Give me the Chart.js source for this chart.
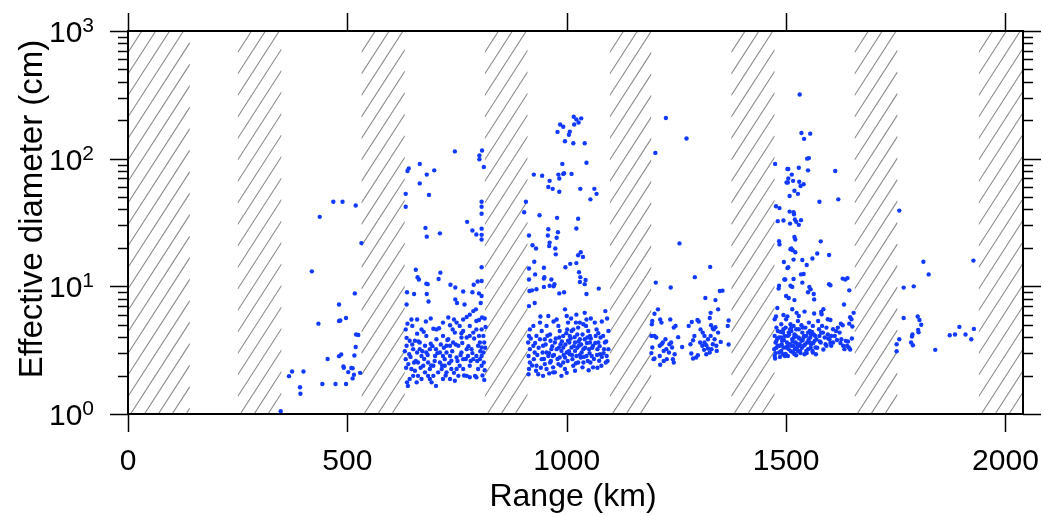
<!DOCTYPE html>
<html>
<head>
<meta charset="utf-8">
<script src="https://cdn.jsdelivr.net/npm/chart.js@4.4.0/dist/chart.umd.min.js"></script>
<style>
  body { margin: 0; background: #fff; }
  canvas { display: block; }
</style>
</head>
<body>
<canvas id="chart" width="1043" height="516"></canvas>
<script>
// axis setup
const xTicks = [0, 500, 1000, 1500, 2000];
const yTicks = [1, 10, 100, 1000];
const yTickExps = ['0', '1', '2', '3'];
const xTitle = 'Range (km)';
const yTitle = 'Effective diameter (cm)';

// hatched range bands (km)
const shadowBands = [[0, 141], [250, 350], [532, 631], [813, 911], [1098, 1193], [1375, 1474], [1656, 1754], [1939, 2040]];

// [range km, diameter cm]
const groupNear = [[348,1.05],[367,1.98],[374,2.15],[400,2.15],[392,1.62],[393,1.44],[434,5.1],[443,1.72],[455,2.7],[473,1.72],[481,7.2],[481,5.35],[484,5.4],[497,5.65],[481,2.84],[486,2.93],[491,2.36],[492,2.3],[497,1.72],[502,2.13],[509,2.29],[512,2.28],[515,2.03],[512,1.9],[516,2.87],[519,3.35],[520,4.2],[525,4.16],[517,8.8],[529,2.1],[468,46],[489,46],[519,43],[532,21.8],[419,13.1],[437,35]];

const group700Upper = [[640,84],[637,80],[665,91],[681,75],[698,81],[665,64],[686,52],[633,53],[633,42],[745,114],[801,106],[801,99],[807,116],[811,86],[806,46],[806,42],[806,37],[773,32],[785,27.4],[794,25.5],[806,28.3],[806,25.3],[806,23.3],[678,28.7],[681,24.5],[711,26],[656,13.5],[660,11.8],[663,11.3],[712,12.8],[708,11.4],[680,10.5],[683,10.4],[806,14.1],[636,9.0],[635,7.2],[652,8.7],[681,8.7],[685,7.6],[735,10.3],[746,9.8],[764,9.1],[746,7.9],[750,7.4],[767,7.2],[788,10.3],[797,10.9],[806,11.0],[785,9.0],[800,8.8],[806,8.4],[804,7.4]];

const group700 = [[646,5.5],[659,5.5],[679,5.3],[633,4.6],[648,4.9],[669,4.6],[674,4.4],[635,3.95],[642,3.75],[659,4.26],[665,3.63],[680,4.09],[690,3.55],[696,4.65],[703,4.6],[709,4.7],[718,5.2],[730,5.7],[734,4.95],[743,5.5],[749,5.2],[756,4.9],[764,5.5],[772,5.75],[779,6.0],[787,6.4],[793,6.6],[794,5.35],[800,5.45],[807,5.7],[813,5.6],[806,4.6],[810,4.09],[802,3.63],[798,3.42],[787,4.34],[779,4.09],[772,3.97],[760,3.97],[753,3.42],[741,3.63],[734,3.42],[726,3.03],[718,2.85],[711,3.03],[702,3.22],[688,3.22],[680,3.03],[669,2.85],[659,3.03],[650,3.22],[641,2.94],[633,2.69],[639,2.46],[646,2.25],[654,2.18],[642,1.88],[636,1.77],[638,1.66],[650,1.99],[661,1.99],[669,1.88],[677,2.12],[684,1.99],[692,1.77],[702,1.66],[696,1.99],[707,2.12],[715,2.25],[722,2.39],[726,2.12],[734,1.88],[745,1.82],[749,2.25],[756,2.39],[764,2.25],[772,1.99],[779,1.94],[791,1.99],[798,2.25],[806,2.39],[811,2.53],[802,2.69],[794,2.85],[810,3.03],[806,3.32],[783,3.22],[775,2.85],[764,2.69],[749,2.77],[737,2.61],[722,2.69],[711,2.53],[696,2.39],[684,2.53],[673,2.39],[661,2.53],[652,2.53],[665,3.22],[635,3.42],[703,3.85],[718,4.09],[730,3.85],[745,4.34],[764,4.47],[779,4.9],[794,4.6],[688,2.25],[718,1.88],[779,2.39],[794,1.94],[753,1.99],[734,2.85],[737,2.25],[658,1.77],[688,1.88],[806,2.85],[812,3.63],[800,4.09],[726,3.42],[677,3.42],[654,3.75],[700,2.85],[760,3.03],[787,2.69],[772,3.22],
    [631,3.1],[634,2.3],[644,2.8],[648,3.5],[656,2.6],[662,3.7],[667,2.3],[671,3.1],[675,2.7],[683,2.9],[691,2.4],[694,3.4],[699,2.6],[705,3.0],[713,3.5],[716,2.4],[720,3.3],[724,2.0],[728,3.8],[732,2.5],[739,3.1],[743,2.1],[747,3.5],[751,2.6],[758,2.9],[762,3.6],[766,2.0],[770,2.7],[776,3.4],[781,2.6],[785,3.0],[789,3.9],[796,2.6],[803,3.1],[808,2.0],[813,2.2],[815,4.8],[814,3.3],[812,1.85],[637,5.1],[690,5.6],[740,4.6],[760,4.3]];

const group1000Upper = [[1016,213],[1022,203],[1033,207],[1027,192],[1017,185],[985,185],[992,178],[1007,163],[1005,154],[979,162],[996,137],[1015,132],[1041,132],[990,91],[1045,93],[925,75],[944,73.5],[961,67],[981,75],[983,70],[992,76],[994,77],[1011,76],[958,60],[968,58],[983,55],[1031,58],[1063,58],[1068,53],[1054,48],[907,46],[903,38],[938,36],[978,34.4],[1026,33.8],[958,28],[957,25],[961,22],[960,20.7],[980,26.5],[977,24],[974,19.8],[1022,28.4],[1026,17.5],[1032,18.5],[1037,17],[914,25],[922,21],[930,19.8],[926,15.6],[975,17.8],[997,14.1],[1008,15],[1022,15.2],[1028,12.9],[948,14],[914,13.8],[928,12.4],[948,11.5],[914,11.3],[949,11.8],[965,11.3],[972,10.4],[948,9.9],[961,10.1],[970,10],[1031,11.8],[1030,10.8],[1041,10.4],[1043,11.2],[1073,9.6],[915,9.2],[921,9.3],[931,9.5],[983,8.8],[994,9.0],[1045,8.7],[914,7.0],[927,7.4]];

const group1000 = [[916,4.6],[914,4.09],[912,3.63],[916,3.22],[913,2.85],[916,2.53],[914,2.25],[913,2.05],[924,3.42],[927,3.03],[925,2.69],[931,2.39],[930,2.18],[939,5.2],[943,4.47],[939,3.85],[946,3.42],[945,3.03],[943,2.69],[950,2.46],[954,2.25],[958,5.85],[954,4.9],[962,4.2],[963,3.75],[965,3.22],[968,2.85],[962,2.53],[969,2.32],[973,2.12],[977,5.5],[981,4.9],[984,4.47],[983,3.97],[986,3.52],[988,3.12],[984,2.77],[992,2.53],[996,2.25],[988,1.99],[996,6.6],[1000,5.85],[1003,5.2],[1001,4.6],[1007,4.09],[1006,3.63],[1011,3.32],[1007,2.94],[1013,2.69],[1015,2.39],[1019,2.18],[1022,6.0],[1021,5.2],[1026,4.75],[1024,4.2],[1030,3.85],[1028,3.42],[1034,3.03],[1032,2.77],[1038,2.53],[1036,2.32],[1041,6.2],[1045,5.5],[1044,4.9],[1049,4.47],[1047,3.97],[1053,3.63],[1051,3.22],[1057,2.85],[1054,2.53],[1060,2.32],[1064,5.2],[1068,4.6],[1066,4.09],[1072,3.63],[1070,3.22],[1076,2.94],[1074,2.61],[1079,2.39],[1083,4.09],[1087,3.63],[1085,3.22],[1091,2.85],[1089,2.53],[1095,4.47],[1095,3.22],[1088,6.4],[992,3.32],[1000,3.03],[1003,3.75],[1019,3.12],[1026,2.53],[1038,3.22],[1041,3.85],[1019,3.63],[1011,4.47],[977,3.22],[973,3.63],[958,2.85],[950,3.85],[931,4.09],[924,4.9],[996,2.77],[1022,2.85],[1045,2.85],[1060,3.42],[1038,5.05],[981,2.46],[954,3.03],[992,4.09],[1015,4.6],[1053,4.09],[1077,3.97],[946,1.99],[969,2.12],[935,2.05],[1000,2.1],[1050,2.2],[1070,2.3],[960,2.08],
    [918,3.9],[921,2.4],[928,3.6],[933,2.9],[936,3.3],[941,2.3],[948,2.7],[952,3.5],[956,4.1],[960,3.0],[964,2.6],[967,3.4],[971,2.9],[975,3.9],[979,2.7],[982,3.3],[986,2.4],[989,3.7],[993,2.9],[997,3.5],[999,4.3],[1002,2.6],[1005,3.1],[1009,3.9],[1012,2.9],[1016,3.4],[1018,4.0],[1021,2.5],[1024,3.3],[1027,3.7],[1030,2.9],[1033,3.5],[1036,4.2],[1039,2.8],[1042,3.3],[1046,3.6],[1048,2.6],[1052,3.0],[1055,3.9],[1058,3.3],[1062,2.7],[1065,3.6],[1069,2.9],[1072,4.3],[1075,3.4],[1080,2.8],[1084,3.0],[1090,3.7],[1093,2.6],[1010,5.6],[1030,5.2],[1055,5.6],[970,5.3],[940,5.8],[1080,5.3],[1092,5.6]];

const group1250 = [[1226,208],[1202,111],[1273,144],[1257,21.7],[1327,14.2],[1292,11.8],[1203,10.7],[1237,9.8],[1349,9.2],[1355,9.25],[1316,8.1],[1339,7.8],[1345,6.6],[1208,6.6],[1200,6.1],[1328,6.2],[1369,5.4],[1367,4.9],[1369,3.5],[1236,5.5],[1213,5.5],[1216,5.2],[1195,5.35],[1194,5.05],[1278,4.9],[1285,5.25],[1298,5.45],[1301,5.3],[1326,5.65],[1329,4.95],[1339,4.78],[1333,4.67],[1244,4.75],[1248,4.9],[1254,4.0],[1193,4.09],[1200,4.09],[1204,3.97],[1195,3.32],[1193,3.0],[1198,2.69],[1200,2.72],[1212,3.42],[1216,3.52],[1219,3.63],[1213,2.43],[1227,3.22],[1225,3.85],[1234,3.52],[1238,3.63],[1240,3.32],[1233,3.03],[1228,2.69],[1242,2.69],[1244,2.53],[1221,3.12],[1212,2.85],[1221,2.6],[1246,2.94],[1263,3.35],[1284,2.98],[1288,2.72],[1295,2.77],[1299,2.89],[1282,3.52],[1288,3.78],[1291,4.09],[1305,4.6],[1310,4.34],[1314,4.09],[1304,3.63],[1309,3.42],[1313,3.18],[1318,3.46],[1322,3.26],[1326,3.03],[1318,2.94],[1330,3.22],[1333,3.52],[1337,3.85],[1341,3.42],[1328,4.09],[1335,4.6],[1345,4.34],[1351,3.67],[1342,3.12],[1314,3.63],[1322,3.85]];

const group1500Upper = [[1531,318],[1535,159],[1555,157],[1541,143],[1548,100],[1552,101],[1475,91],[1503,83],[1505,83],[1529,85],[1550,81],[1513,75],[1505,70],[1501,65],[1504,65],[1516,67],[1530,66],[1540,63],[1533,61],[1519,56],[1527,53],[1508,51],[1612,80],[1619,48],[1576,46],[1477,42.4],[1485,41],[1481,32.4],[1494,32.8],[1508,38.5],[1517,38],[1518,36.7],[1520,33.4],[1523,32],[1534,33],[1529,30.3],[1509,31],[1484,22.6],[1485,21.3],[1519,24.4],[1521,23.3],[1512,19.8],[1515,19.2],[1521,18.5],[1510,19.5],[1579,22.5],[1571,18.1],[1560,16.5],[1598,17.6],[1537,16.1],[1547,14.7],[1495,15.5],[1505,14.1],[1503,13.9],[1517,16.2],[1510,10.1],[1514,9.9],[1519,7.8],[1500,8.4],[1506,8.1],[1484,10.1],[1483,9.6],[1496,11.3],[1498,11.3],[1517,11.4],[1534,12.4],[1540,12.5],[1553,9.9],[1563,8.7],[1564,7.9],[1556,9.47],[1550,9.0],[1537,10.7],[1598,10.4],[1601,10.2],[1629,11.5],[1635,11.3],[1640,11.6],[1644,9.3],[1632,7.2],[1477,5.8],[1494,5.97],[1503,5.82],[1480,6.77],[1514,6.61],[1524,6.2],[1529,5.86],[1542,6.34],[1564,6.12],[1581,6.04],[1585,6.61],[1580,6.3],[1595,5.52],[1601,5.45],[1625,5.1],[1629,4.95],[1646,5.72],[1649,5.52],[1654,6.2],[1644,5.1],[1651,4.84]];

const group1500 = [[1474,5.52],[1478,4.75],[1474,4.09],[1476,3.63],[1473,3.22],[1474,2.85],[1475,2.72],[1481,4.47],[1484,3.97],[1485,3.42],[1484,3.03],[1489,5.05],[1493,4.34],[1491,3.74],[1494,3.32],[1493,2.94],[1500,5.52],[1499,4.75],[1504,4.09],[1502,3.63],[1506,3.22],[1504,2.85],[1510,5.05],[1512,4.47],[1514,3.85],[1512,3.42],[1516,3.03],[1517,4.9],[1519,4.2],[1522,3.63],[1520,3.22],[1523,2.88],[1527,5.35],[1529,4.61],[1528,3.97],[1531,3.52],[1532,3.12],[1535,4.95],[1537,4.34],[1538,3.8],[1540,3.42],[1542,2.94],[1544,4.75],[1546,4.09],[1548,3.63],[1550,3.22],[1552,5.2],[1554,4.47],[1555,3.97],[1557,3.52],[1560,3.12],[1561,4.9],[1563,4.2],[1565,3.74],[1567,3.32],[1568,2.94],[1573,5.35],[1575,4.61],[1576,4.09],[1579,3.63],[1582,4.9],[1584,4.34],[1588,3.97],[1590,3.52],[1592,4.75],[1595,4.2],[1599,3.85],[1603,3.42],[1607,3.63],[1611,4.09],[1614,4.47],[1618,4.75],[1622,4.34],[1626,3.85],[1630,3.42],[1633,3.22],[1636,3.74],[1639,3.42],[1643,3.32],[1489,3.12],[1497,4.09],[1508,3.52],[1525,3.32],[1535,3.74],[1546,3.12],[1557,4.2],[1569,3.85],[1523,4.61],[1512,4.75],[1500,3.32],[1561,3.03],[1478,3.74],[1497,2.85],[1516,3.42],[1538,4.75],[1550,4.34],[1580,4.34],[1592,3.42],[1607,4.61],[1603,4.09],[1494,4.61],[1506,4.34],[1518,3.97],[1529,3.42],[1541,4.09],[1554,3.63],[1481,3.42],[1489,3.97],
    [1476,3.0],[1480,3.9],[1486,2.8],[1490,3.5],[1495,3.8],[1499,2.95],[1503,3.4],[1507,4.2],[1511,3.1],[1515,3.7],[1519,2.95],[1522,4.1],[1526,3.5],[1530,3.9],[1533,3.0],[1536,3.3],[1540,4.0],[1543,3.5],[1547,3.0],[1551,3.8],[1556,3.3],[1559,4.4],[1562,3.6],[1566,4.1],[1571,3.3],[1577,3.7],[1585,3.2],[1596,3.9],[1601,3.6],[1616,3.8],[1624,3.6],[1641,3.7],[1646,3.2],[1650,3.9],[1478,3.3],[1487,4.4],[1509,4.6],[1527,3.1]];

const groupFar = [[1758,39.2],[1813,15.6],[1825,12.4],[1768,9.77],[1791,10],[1927,15.9],[1768,5.65],[1800,5.8],[1804,5.45],[1808,5.0],[1801,4.56],[1802,4.36],[1788,4.2],[1787,4.05],[1785,3.63],[1789,3.46],[1758,3.85],[1752,3.52],[1752,3.1],[1840,3.18],[1873,4.14],[1885,4.2],[1895,4.81],[1909,4.2],[1922,3.85],[1928,4.64]];

const groups = [groupNear, group700Upper, group700, group1000Upper, group1000, group1250, group1500Upper, group1500, groupFar];

const FONT = '"Liberation Sans", Arial, Helvetica, sans-serif';

const framePlugin = {
    id: 'frame',
    beforeDatasetsDraw(chart) {
        const { ctx, chartArea: a, scales } = chart;
        const xs = scales.x;
        ctx.save();
        ctx.strokeStyle = '#8c8c8c';
        ctx.lineWidth = 1.1;
        const slope = 1.55;   // rise per px
        const step = 21.5;    // vertical spacing of hatch lines
        shadowBands.forEach(([from, to]) => {
            const x0 = xs.getPixelForValue(from);
            const x1 = Math.min(xs.getPixelForValue(to), a.right);
            ctx.save();
            ctx.beginPath();
            ctx.rect(x0, a.top, x1 - x0, a.bottom - a.top);
            ctx.clip();
            const w = x1 - x0;
            ctx.beginPath();
            for (let c = a.top; c < a.bottom + slope * w + step; c += step) {
                ctx.moveTo(x0, c);
                ctx.lineTo(x1, c - slope * w);
            }
            ctx.stroke();
            ctx.restore();
        });
        ctx.restore();
    },
    afterDatasetsDraw(chart) {
        const { ctx, chartArea: a, scales } = chart;
        const xs = scales.x, ys = scales.y;
        ctx.save();
        ctx.strokeStyle = '#000';
        ctx.fillStyle = '#000';

        // ticks
        ctx.lineWidth = 1.5;
        ctx.beginPath();
        xTicks.forEach(v => {
            const px = Math.round(xs.getPixelForValue(v)) + 0.5;
            ctx.moveTo(px, a.bottom); ctx.lineTo(px, a.bottom + 18);
            ctx.moveTo(px, a.top); ctx.lineTo(px, a.top - 18);
        });
        yTicks.forEach((v, i) => {
            const py = Math.round(ys.getPixelForValue(v)) + 0.5;
            ctx.moveTo(a.left - 18, py); ctx.lineTo(a.left, py);
            ctx.moveTo(a.right, py); ctx.lineTo(a.right + 18, py);
            if (i < yTicks.length - 1) {
                for (let m = 2; m <= 9; m++) {
                    const pm = Math.round(ys.getPixelForValue(v * m)) + 0.5;
                    ctx.moveTo(a.left - 10, pm); ctx.lineTo(a.left, pm);
                    ctx.moveTo(a.right, pm); ctx.lineTo(a.right + 10, pm);
                }
            }
        });
        ctx.stroke();

        // frame
        ctx.lineWidth = 2;
        ctx.strokeRect(a.left, a.top, a.right - a.left, a.bottom - a.top);

        // x tick labels
        ctx.font = '30px ' + FONT;
        ctx.textAlign = 'center';
        ctx.textBaseline = 'alphabetic';
        xTicks.forEach(v => ctx.fillText(String(v), xs.getPixelForValue(v), 470));

        // y tick labels as 10^n
        yTicks.forEach((v, i) => {
            const py = ys.getPixelForValue(v);
            ctx.font = '30px ' + FONT;
            const w1 = ctx.measureText('10').width;
            ctx.font = '21px ' + FONT;
            const w2 = ctx.measureText(yTickExps[i]).width;
            ctx.textAlign = 'left';
            ctx.font = '30px ' + FONT;
            ctx.fillText('10', 94 - w2 - w1, py + 11);
            ctx.font = '21px ' + FONT;
            ctx.fillText(yTickExps[i], 94 - w2, py + 1);
        });

        // titles
        ctx.font = '32px ' + FONT;
        ctx.textAlign = 'center';
        ctx.fillText(xTitle, 573, 506);
        ctx.save();
        ctx.translate(42, 209);
        ctx.rotate(-Math.PI / 2);
        ctx.font = '33px ' + FONT;
        ctx.fillText(yTitle, 0, 0);
        ctx.restore();
        ctx.restore();
    }
};

new Chart(document.getElementById('chart'), {
    type: 'scatter',
    data: {
        datasets: groups.map(g => ({
            data: g.map(([x, y]) => ({ x, y })),
            backgroundColor: 'rgb(18, 58, 255)',
            borderWidth: 0,
            pointRadius: 2.2,
            pointHoverRadius: 2.2
        }))
    },
    options: {
        responsive: false,
        animation: false,
        layout: { padding: { left: 128, right: 20, top: 31, bottom: 102 } },
        plugins: { legend: { display: false }, tooltip: { enabled: false } },
        scales: {
            x: { type: 'linear', min: 0, max: 2040, display: false },
            y: { type: 'logarithmic', min: 1, max: 1000, display: false }
        }
    },
    plugins: [framePlugin]
});
</script>
</body>
</html>
